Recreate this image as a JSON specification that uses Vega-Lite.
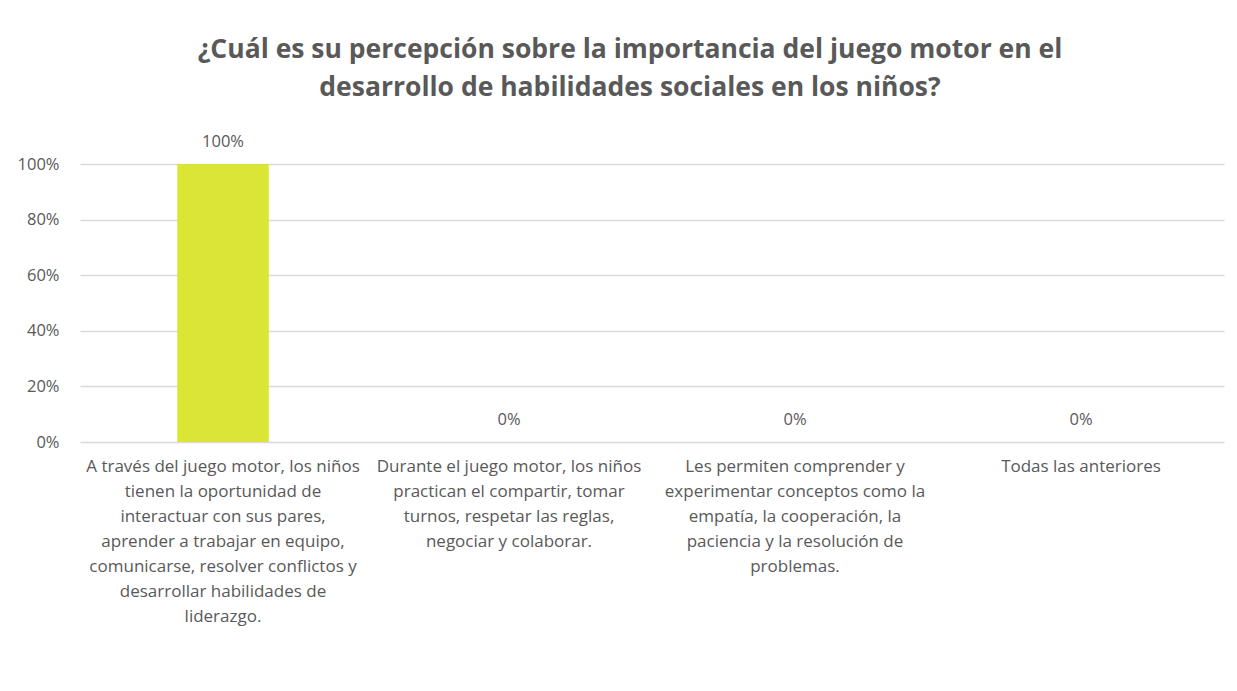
{
  "$schema": "https://vega.github.io/schema/vega-lite/v6.json",
  "autosize": {"type": "none"},
  "width": 1144,
  "height": 278,
  "padding": {"left": 80, "top": 164, "right": 13, "bottom": 249},
  "background": "white",
  "title": {
    "text": ["¿Cuál es su percepción sobre la importancia del juego motor en el", "desarrollo de habilidades sociales en los niños?"],
    "anchor": "middle",
    "dx": -22,
    "offset": 33,
    "font": "Open Sans",
    "fontSize": 26.5,
    "fontWeight": "bold",
    "color": "#595959",
    "lineHeight": 38
  },
  "data": {
    "values": [
      {"categoria": "A través del juego motor, los niños|tienen la oportunidad de|interactuar con sus pares,|aprender a trabajar en equipo,|comunicarse, resolver conflictos y|desarrollar habilidades de|liderazgo.", "porcentaje": 1},
      {"categoria": "Durante el juego motor, los niños|practican el compartir, tomar|turnos, respetar las reglas,|negociar y colaborar.", "porcentaje": 0},
      {"categoria": "Les permiten comprender y|experimentar conceptos como la|empatía, la cooperación, la|paciencia y la resolución de|problemas.", "porcentaje": 0},
      {"categoria": "Todas las anteriores", "porcentaje": 0}
    ]
  },
  "encoding": {
    "x": {
      "field": "categoria",
      "type": "nominal",
      "sort": null,
      "scale": {"paddingInner": 0.68, "paddingOuter": 0.34},
      "axis": {
        "title": null,
        "labelAngle": 0,
        "labelExpr": "split(datum.label, '|')",
        "labelFont": "Open Sans",
        "labelFontSize": 17,
        "labelLineHeight": 25,
        "labelColor": "#595959",
        "labelPadding": 16,
        "labelLimit": 0,
        "labelOverlap": false,
        "ticks": false,
        "domain": false,
        "grid": false
      }
    },
    "y": {
      "field": "porcentaje",
      "type": "quantitative",
      "scale": {"domain": [0, 1]},
      "axis": {
        "title": null,
        "format": ".0%",
        "values": [0, 0.2, 0.4, 0.6, 0.8, 1],
        "labelFont": "Open Sans",
        "labelFontSize": 16.5,
        "labelColor": "#595959",
        "labelPadding": 21,
        "labelOverlap": false,
        "ticks": false,
        "domain": false,
        "grid": true,
        "gridColor": "#d9d9d9",
        "gridWidth": 1.5
      }
    }
  },
  "layer": [
    {"mark": {"type": "bar", "color": "#dbe536"}},
    {
      "mark": {"type": "text", "baseline": "middle", "dy": -22, "font": "Open Sans", "fontSize": 16.5, "color": "#595959"},
      "encoding": {"text": {"field": "porcentaje", "type": "quantitative", "format": ".0%"}}
    }
  ],
  "config": {"view": {"stroke": null}}
}
